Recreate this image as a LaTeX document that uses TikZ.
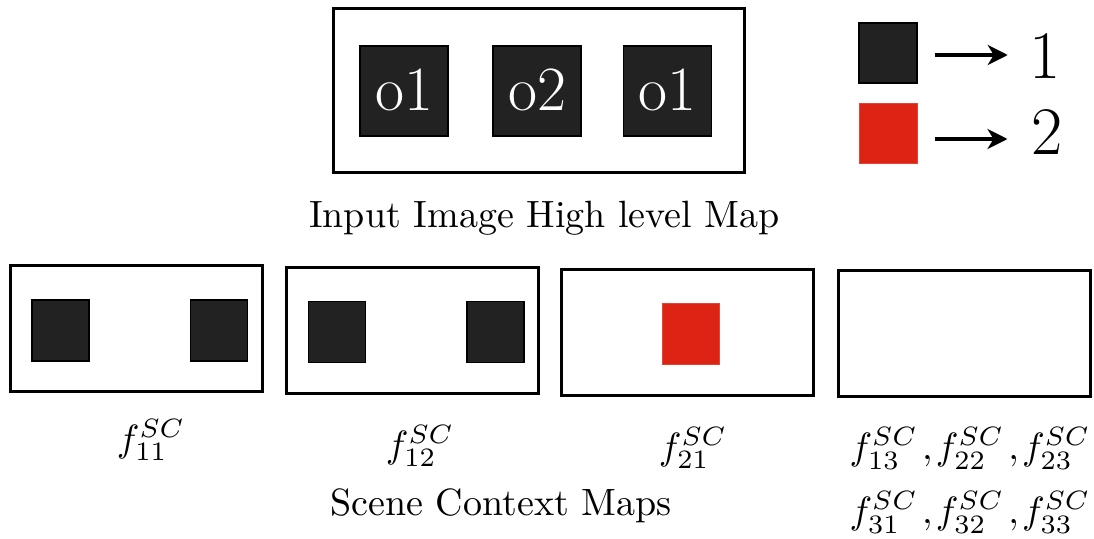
\documentclass[tikz,border=0pt]{standalone}
\usepackage{fontspec}
\usetikzlibrary{arrows.meta}
\definecolor{boxdark}{HTML}{222222}
\definecolor{boxred}{HTML}{DD2414}
\newcommand{\bigtext}[1]{\scalebox{3.8}{#1}}
\newcommand{\mapsep}{\mkern2mu,\mkern-1.5mu}
\tikzset{
  frame/.style={draw=black, line width=3pt, fill=white, inner sep=0pt, minimum width=252pt, minimum height=126pt},
  objsq/.style={draw=black, line width=1.5pt, fill=boxdark, inner sep=0pt},
  redsq/.style={draw=boxred!85!white, line width=1pt, fill=boxred, inner sep=0pt},
  smallsq/.style={minimum width=57pt, minimum height=61pt},
  caption/.style={inner sep=0pt},
  objlabel/.style={text=white, font=\rmfamily\fontsize{63}{70}\selectfont, inner sep=0pt, anchor=base},
  legnum/.style={font=\rmfamily\fontsize{68}{72}\selectfont, inner sep=0pt, anchor=base},
  legarrow/.style={line width=3.5pt, -{Stealth[length=20pt,width=20pt,inset=6pt]}}
}
\begin{document}
\begin{tikzpicture}[x=1pt,y=-1pt]
\useasboundingbox (0,0) rectangle (1094,538);

% input image high level map
\node[frame, minimum width=411pt, minimum height=164pt] (input) at (539,90.5) {};
\node[objsq, minimum width=88pt, minimum height=90pt] (oA) at (404,91) {};
\node[objsq, minimum width=88pt, minimum height=90pt] (oB) at (537,91) {};
\node[objsq, minimum width=88pt, minimum height=90pt] (oC) at (667.5,91) {};
\node[objlabel] (oAt) at (404,110) {o1};
\node[objlabel] (oBt) at (537,110) {o2};
\node[objlabel] (oCt) at (667.5,110) {o1};
\node[caption, anchor=base] (incap) at (544.5,227) {\bigtext{Input Image High level Map}};

% legend
\node[objsq, minimum width=58pt, minimum height=60pt] (legK) at (888,53) {};
\node[redsq, minimum width=58pt, minimum height=60pt] (legR) at (888,133) {};
\node[legnum] (one) at (1045,78) {1};
\node[legnum] (two) at (1047,154) {2};
\draw[legarrow] ([xshift=17pt,yshift=-2pt]legK.east) -- ([xshift=90pt,yshift=-2pt]legK.east);
\draw[legarrow] ([xshift=17pt,yshift=-6pt]legR.east) -- ([xshift=90pt,yshift=-6pt]legR.east);

% scene context maps
\node[frame] (m1) at (136.5,328.5) {};
\node[objsq, smallsq] (m1a) at (60.5,330.5) {};
\node[objsq, smallsq] (m1b) at (219,330.5) {};

\node[frame] (m2) at (412.5,330.5) {};
\node[objsq, smallsq] (m2a) at (337,332) {};
\node[objsq, smallsq] (m2b) at (495.5,332) {};

\node[frame] (m3) at (687,332.5) {};
\node[redsq, smallsq] (m3a) at (691,333.5) {};

\node[frame] (m4) at (964.5,333.5) {};

% map labels
\node[caption] (f11) at (151,440) {\bigtext{$f^{SC}_{11}$}};
\node[caption] (f12) at (420,446) {\bigtext{$f^{SC}_{12}$}};
\node[caption] (f21) at (693,448) {\bigtext{$f^{SC}_{21}$}};
\node[caption] (frest1) at (970,448.5) {\bigtext{$f^{SC}_{13}\mapsep f^{SC}_{22}\mapsep f^{SC}_{23}$}};
\node[caption] (frest2) at (970,512.5) {\bigtext{$f^{SC}_{31}\mapsep f^{SC}_{32}\mapsep f^{SC}_{33}$}};
\node[caption, anchor=base] (sccap) at (501,515) {\bigtext{Scene Context Maps}};
\end{tikzpicture}
\end{document}
